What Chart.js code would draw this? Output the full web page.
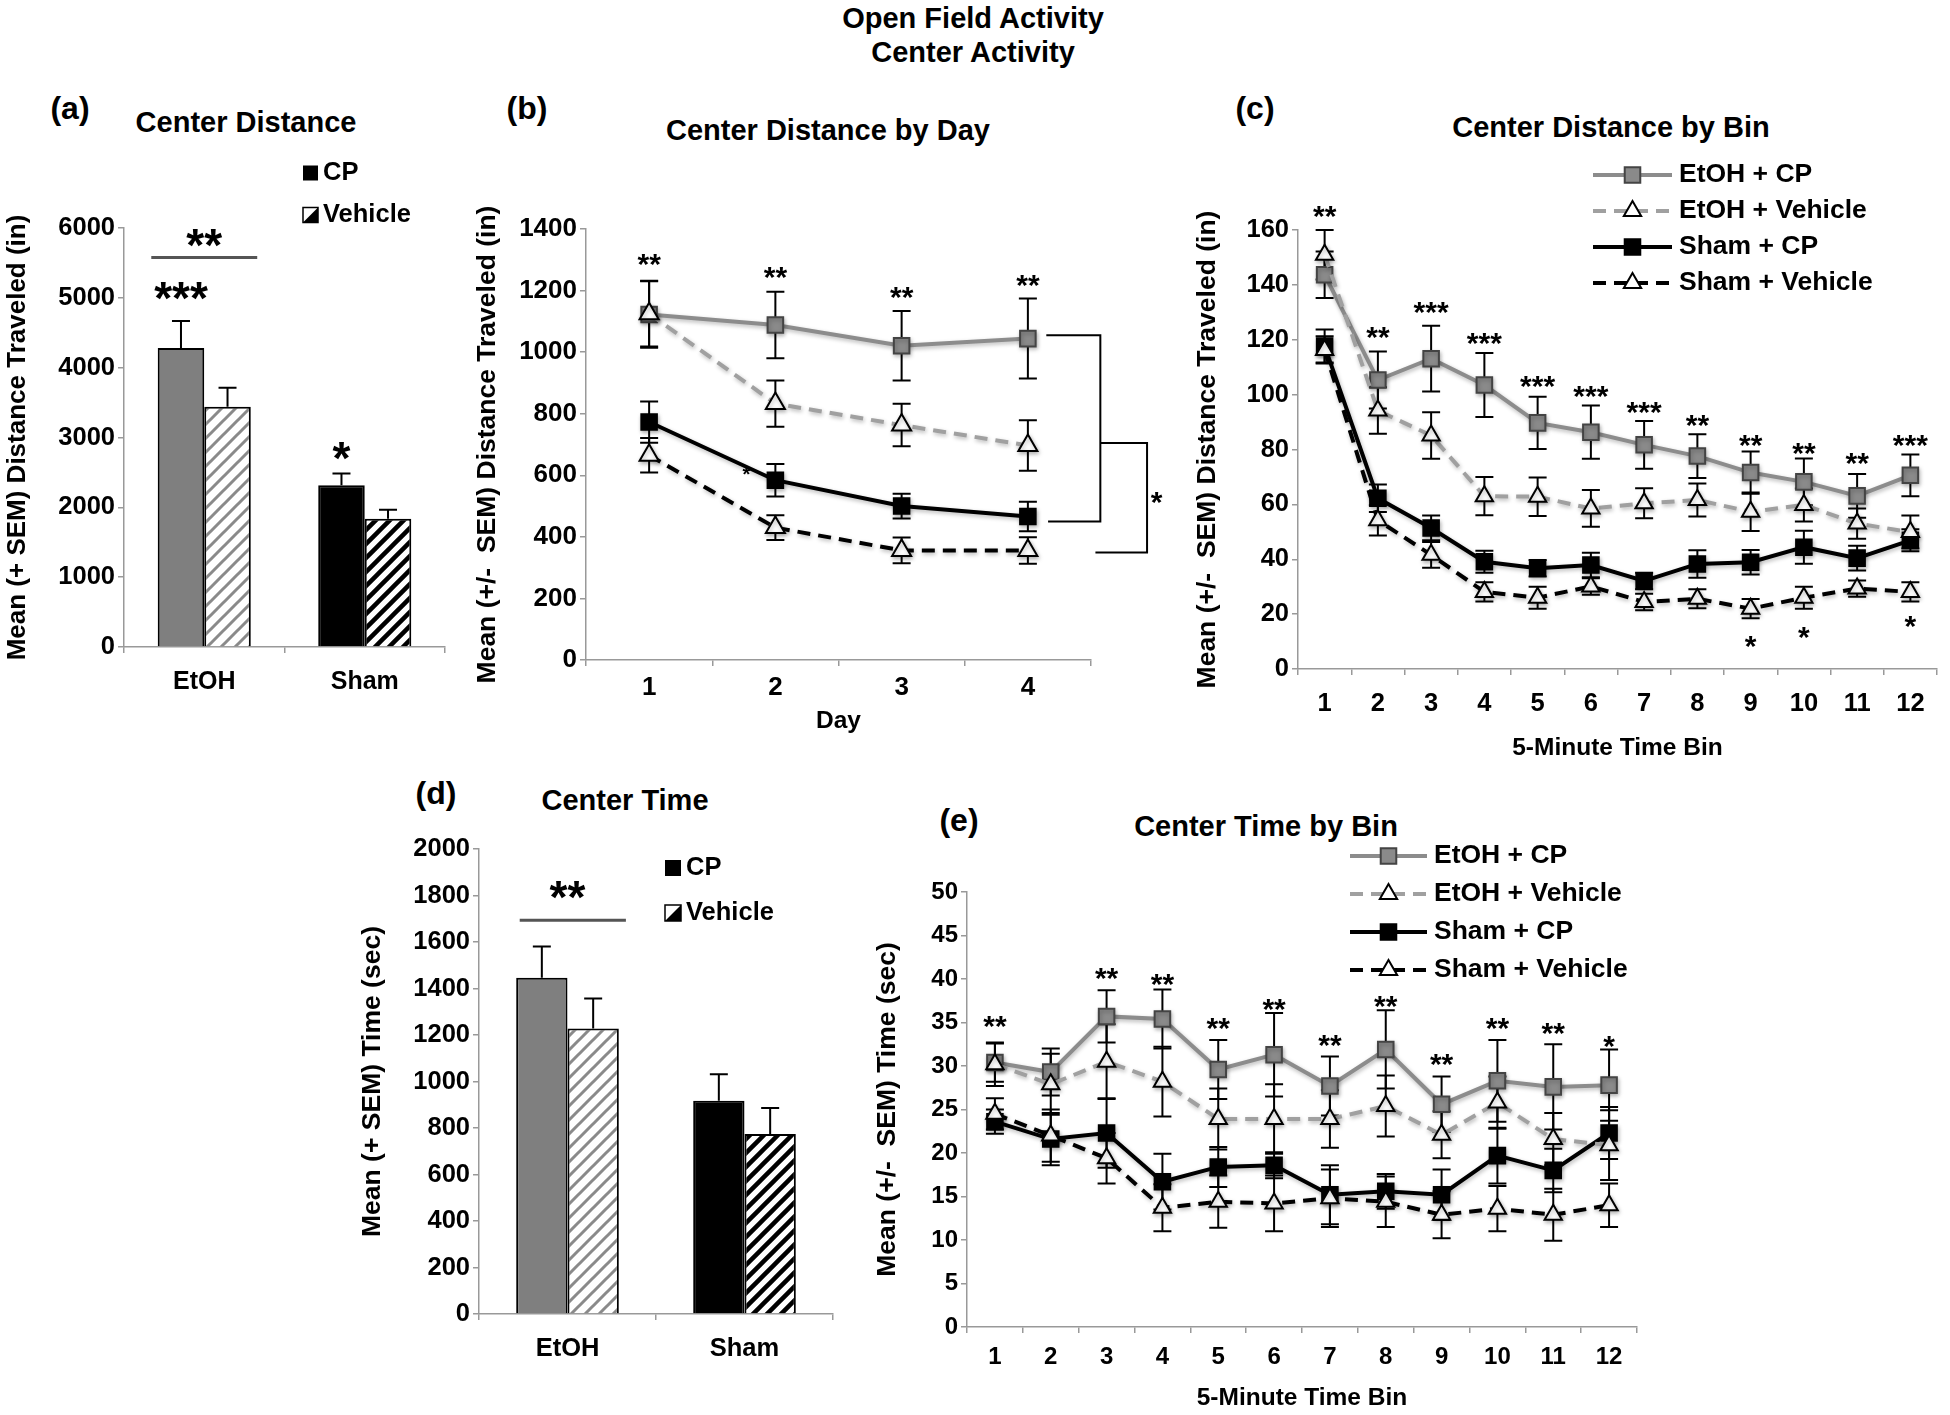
<!DOCTYPE html>
<html>
<head>
<meta charset="utf-8">
<title>Open Field Activity - Center Activity</title>
<script src="https://cdn.jsdelivr.net/npm/chart.js@4.4.1/dist/chart.umd.min.js"></script>
<style>
  html, body { margin: 0; padding: 0; background: #fff; }
  body { position: relative; width: 1950px; height: 1415px; overflow: hidden;
         font-family: "Liberation Sans", Arial, Helvetica, sans-serif; font-weight: bold; color: #000; }
  .lbl { position: absolute; white-space: nowrap; line-height: 1; transform: translate(-50%, -50%); }
  canvas { position: absolute; }
</style>
</head>
<body>
<div class="lbl" style="left:973px;top:18px;font-size:29px">Open Field Activity</div>
<div class="lbl" style="left:973px;top:52px;font-size:29px">Center Activity</div>

<div class="lbl" style="left:70px;top:108px;font-size:32px">(a)</div>
<div class="lbl" style="left:246px;top:122px;font-size:29px">Center Distance</div>
<div class="lbl" style="left:527px;top:108px;font-size:32px">(b)</div>
<div class="lbl" style="left:828px;top:130px;font-size:29px">Center Distance by Day</div>
<div class="lbl" style="left:1255px;top:108px;font-size:32px">(c)</div>
<div class="lbl" style="left:1611px;top:127px;font-size:29px">Center Distance by Bin</div>
<div class="lbl" style="left:436px;top:793px;font-size:32px">(d)</div>
<div class="lbl" style="left:625px;top:800px;font-size:29px">Center Time</div>
<div class="lbl" style="left:959px;top:820px;font-size:32px">(e)</div>
<div class="lbl" style="left:1266px;top:826px;font-size:29px">Center Time by Bin</div>

<canvas id="chartA" width="460" height="570" style="left:0px;top:140px"></canvas>
<canvas id="chartB" width="730" height="620" style="left:470px;top:140px"></canvas>
<canvas id="chartC" width="760" height="630" style="left:1190px;top:140px"></canvas>
<canvas id="chartD" width="495" height="570" style="left:355px;top:830px"></canvas>
<canvas id="chartE" width="780" height="580" style="left:870px;top:840px"></canvas>

<script>
// ---- data -------------------------------------------------------------
const groups = ["EtOH", "Sham"];
const treatments = ["CP", "Vehicle"];
const seriesNames = ["EtOH + CP", "EtOH + Vehicle", "Sham + CP", "Sham + Vehicle"];

// (a) center distance, mean and SEM
const distCP = [4280, 2316];
const distCPSem = [390, 170];
const distVeh = [3441, 1836];
const distVehSem = [270, 130];

// (b) center distance by day
const days = ["1", "2", "3", "4"];
const dayEtohCP = [1122, 1088, 1021, 1044];
const dayEtohCPSem = [108, 108, 113, 130];
const dayEtohVeh = [1125, 833, 763, 697];
const dayEtohVehSem = [107, 75, 69, 82];
const dayShamCP = [773, 584, 500, 466];
const dayShamCPSem = [67, 53, 40, 48];
const dayShamVeh = [665, 430, 356, 356];
const dayShamVehSem = [56, 40, 42, 43];
const dayStars = ["**", "**", "**", "**"];
const dayStarY = [1310, 1268, 1203, 1241];

// (c) center distance by 5-minute bin
const bins = ["1", "2", "3", "4", "5", "6", "7", "8", "9", "10", "11", "12"];
const binDistEtohCP = [143.7, 105.3, 113.1, 103.5, 89.7, 86.3, 81.7, 77.6, 71.6, 68.2, 63.1, 70.6];
const binDistEtohCPSem = [8.5, 10.4, 12, 11.7, 9.5, 9.7, 8.7, 8, 7.7, 8.5, 8, 7.6];
const binDistEtohVeh = [151, 94.2, 85.1, 63, 62.8, 58.5, 60.4, 61.6, 57.3, 59.8, 53, 49.9];
const binDistEtohVehSem = [9, 8.5, 8.5, 7, 7, 6.7, 5.5, 6, 7, 6, 5.5, 6];
const binDistShamCP = [117.7, 62.2, 51.4, 39.1, 36.7, 37.9, 32.1, 38.3, 38.9, 44.4, 40.4, 46.9];
const binDistShamCPSem = [6, 5, 4.5, 4, 3, 4.5, 3, 5, 4.5, 6, 4.5, 4];
const binDistShamVeh = [116.3, 54.2, 41.6, 28.1, 26, 30.1, 24.4, 25.6, 22, 26, 29.3, 28.1];
const binDistShamVehSem = [5, 5.5, 4.7, 3.5, 4, 3, 3, 3.5, 3.5, 4, 3, 3.5];
const binDistStars = ["**", "**", "***", "***", "***", "***", "***", "**", "**", "**", "**", "***"];
const binDistStarY = [167.9, 123.8, 132.8, 121.4, 105.7, 102.3, 96.2, 91.8, 84.5, 81.3, 77.9, 84.5];
const binDistLowBins = [8, 9, 11];
const binDistLowY = [10.9, 14.4, 18.3];

// (d) center time
const timeCP = [1446, 917];
const timeCPSem = [135, 114];
const timeVeh = [1228, 774];
const timeVehSem = [129, 112];

// (e) center time by 5-minute bin
const binTimeEtohCP = [30.4, 29.3, 35.7, 35.4, 29.6, 31.3, 27.7, 31.9, 25.6, 28.3, 27.6, 27.8];
const binTimeEtohCPSem = [2.2, 2.7, 3, 3.4, 3.4, 4.8, 3.4, 4.5, 3.2, 4.7, 4.9, 4.1];
const binTimeEtohVeh = [30.2, 27.9, 30.5, 28.2, 23.9, 23.9, 23.9, 25.4, 22.1, 25.8, 21.6, 20.9];
const binTimeEtohVehSem = [2.5, 3.5, 4.3, 4, 3.5, 4, 3.3, 3.5, 2.7, 3, 3, 4];
const binTimeShamCP = [23.6, 21.6, 22.3, 16.7, 18.4, 18.6, 15.2, 15.6, 15.2, 19.7, 18, 22.3];
const binTimeShamCPSem = [1.4, 3, 4, 3.2, 2.3, 1.5, 3.4, 2, 2.9, 3.2, 2.5, 3];
const binTimeShamVeh = [24.5, 22, 19.4, 13.7, 14.4, 14.2, 14.8, 14.4, 12.9, 13.6, 12.9, 14];
const binTimeShamVehSem = [1.8, 3, 2.9, 2.7, 3, 3.2, 3.3, 2.9, 2.7, 2.6, 3, 2.5];
const binTimeStars = ["**", "", "**", "**", "**", "**", "**", "**", "**", "**", "**", "*"];
const binTimeStarY = [35.5, 0, 41, 40.3, 35.2, 37.4, 33.3, 37.7, 31.1, 35.2, 34.7, 33.1];

// ---- styling ----------------------------------------------------------
const FONT = '"Liberation Sans", Arial, Helvetica, sans-serif';
const AXIS = "#999999";
Chart.defaults.font.family = FONT;
Chart.defaults.font.weight = "bold";
Chart.defaults.color = "#000";
Chart.defaults.animation = false;

const STYLES = [
    { color: "#8c8c8c", dash: [], point: "rect", fill: "#8a8a8a", edge: "#444", order: 1 },
    { color: "#a0a0a0", dash: [13, 8], point: "triangle", fill: "#fff", edge: "#000", order: 0 },
    { color: "#000", dash: [], point: "rect", fill: "#000", edge: "#000", order: 3 },
    { color: "#000", dash: [13, 8], point: "triangle", fill: "#fff", edge: "#000", order: 2 },
];

function hatch(color, lw) {
    const c = document.createElement("canvas");
    c.width = 14; c.height = 14;
    const g = c.getContext("2d");
    g.fillStyle = "#fff";
    g.fillRect(0, 0, 14, 14);
    g.strokeStyle = color;
    g.lineWidth = lw;
    g.beginPath();
    g.moveTo(-7, 7); g.lineTo(7, -7);
    g.moveTo(0, 14); g.lineTo(14, 0);
    g.moveTo(7, 21); g.lineTo(21, 7);
    g.stroke();
    return g.createPattern(c, "repeat");
}

function marker(ctx, kind, x, y, r) {
    ctx.beginPath();
    if (kind === "rect") {
        const h = r * Math.SQRT1_2;
        ctx.rect(x - h, y - h, 2 * h, 2 * h);
    } else {
        ctx.moveTo(x, y - r);
        ctx.lineTo(x + r * 0.866, y + r * 0.5);
        ctx.lineTo(x - r * 0.866, y + r * 0.5);
        ctx.closePath();
    }
    ctx.fill();
    ctx.stroke();
}

// ---- plugins ----------------------------------------------------------
function errorBars(opt) {
    function draw(chart) {
        const ctx = chart.ctx, ys = chart.scales.y;
        ctx.save();
        ctx.strokeStyle = "#000";
        ctx.lineWidth = opt.width;
        chart.data.datasets.forEach((ds, di) => {
            if (!ds.sem) return;
            chart.getDatasetMeta(di).data.forEach((el, i) => {
                const v = ds.data[i], s = ds.sem[i];
                const top = ys.getPixelForValue(v + s);
                const bot = opt.upOnly ? ys.getPixelForValue(v) : ys.getPixelForValue(v - s);
                ctx.beginPath();
                ctx.moveTo(el.x, top); ctx.lineTo(el.x, bot);
                ctx.moveTo(el.x - opt.cap, top); ctx.lineTo(el.x + opt.cap, top);
                if (!opt.upOnly) { ctx.moveTo(el.x - opt.cap, bot); ctx.lineTo(el.x + opt.cap, bot); }
                ctx.stroke();
            });
        });
        ctx.restore();
    }
    return {
        id: "errorBars",
        beforeDatasetsDraw(chart) { if (!opt.upOnly) draw(chart); },
        afterDatasetsDraw(chart) { if (opt.upOnly) draw(chart); },
    };
}

// soft glow under the plotted lines, like the exported spreadsheet chart
const glow = {
    id: "glow",
    beforeDatasetsDraw(chart) {
        const ctx = chart.ctx;
        ctx.save();
        ctx.shadowColor = "rgba(0,0,0,0.28)";
        ctx.shadowBlur = 4;
        ctx.shadowOffsetX = 1;
        ctx.shadowOffsetY = 2;
    },
    afterDatasetsDraw(chart) {
        chart.ctx.restore();
    },
};

// significance marks: texts at (category, value), lines in category units
function marks(texts, lines) {
    return {
        id: "marks",
        afterDraw(chart) {
            const ctx = chart.ctx, xs = chart.scales.x, ys = chart.scales.y;
            ctx.save();
            (lines || []).forEach(l => {
                ctx.strokeStyle = l.color || "#000";
                ctx.lineWidth = l.width || 2;
                ctx.beginPath();
                l.pts.forEach((p, k) => {
                    const px = xs.getPixelForValue(p[0]), py = ys.getPixelForValue(p[1]);
                    if (k === 0) ctx.moveTo(px, py); else ctx.lineTo(px, py);
                });
                ctx.stroke();
            });
            ctx.fillStyle = "#000";
            ctx.textAlign = "center";
            ctx.textBaseline = "alphabetic";
            texts.forEach(m => {
                if (!m.t) return;
                const x = m.ds !== undefined ? chart.getDatasetMeta(m.ds).data[m.i].x : xs.getPixelForValue(m.x);
                const y = ys.getPixelForValue(m.y);
                ctx.font = "bold " + m.size + "px " + FONT;
                ctx.fillText(m.t, x, y + m.size * 0.58);
            });
            ctx.restore();
        },
    };
}

function barLegend(opt) {
    return {
        id: "barLegend",
        afterDraw(chart) {
            const ctx = chart.ctx, s = opt.box;
            ctx.save();
            ctx.font = "bold " + opt.size + "px " + FONT;
            ctx.textBaseline = "middle";
            treatments.forEach((name, k) => {
                const y = opt.y + k * opt.gap;
                if (k === 0) {
                    ctx.fillStyle = "#000";
                    ctx.fillRect(opt.x, y - s / 2, s, s);
                } else {
                    ctx.fillStyle = "#fff";
                    ctx.fillRect(opt.x, y - s / 2, s, s);
                    ctx.fillStyle = "#000";
                    ctx.beginPath();
                    ctx.moveTo(opt.x + s, y - s / 2);
                    ctx.lineTo(opt.x + s, y + s / 2);
                    ctx.lineTo(opt.x, y + s / 2);
                    ctx.closePath();
                    ctx.fill();
                    ctx.strokeStyle = "#000";
                    ctx.lineWidth = 1.5;
                    ctx.strokeRect(opt.x, y - s / 2, s, s);
                }
                ctx.fillStyle = "#000";
                ctx.fillText(name, opt.x + s + 5, y);
            });
            ctx.restore();
        },
    };
}

function lineLegend(opt) {
    return {
        id: "lineLegend",
        afterDraw(chart) {
            const ctx = chart.ctx;
            ctx.save();
            ctx.font = "bold " + opt.size + "px " + FONT;
            ctx.textBaseline = "middle";
            seriesNames.forEach((name, k) => {
                const st = STYLES[k], y = opt.y + k * opt.gap;
                ctx.strokeStyle = st.color;
                ctx.lineWidth = 4;
                ctx.setLineDash(st.dash);
                ctx.beginPath();
                ctx.moveTo(opt.x, y); ctx.lineTo(opt.x + opt.len, y);
                ctx.stroke();
                ctx.setLineDash([]);
                ctx.fillStyle = st.fill;
                ctx.strokeStyle = st.edge;
                ctx.lineWidth = 2;
                marker(ctx, st.point, opt.x + opt.len / 2, y, st.point === "rect" ? 11 : 10);
                ctx.fillStyle = "#000";
                ctx.fillText(name, opt.x + opt.len + 7, y);
            });
            ctx.restore();
        },
    };
}

// ---- axes -------------------------------------------------------------
function yAxis(max, step, title, width, tickSize, titleSize, titlePad) {
    return {
        min: 0, max,
        ticks: { stepSize: step, font: { size: tickSize, weight: "bold" }, color: "#000", padding: 3,
                 callback: v => String(v) },
        grid: { drawOnChartArea: false, tickLength: 6, color: AXIS, lineWidth: 1.5 },
        border: { color: AXIS, width: 1.5 },
        title: { display: true, text: title, color: "#000", font: { size: titleSize, weight: "bold" },
                 padding: { top: titlePad, bottom: 0 } },
        afterFit: s => { s.width = width; },
    };
}

function xAxis(height, tickSize, pad, title) {
    return {
        offset: true,
        grid: { offset: true, drawOnChartArea: false, tickLength: 6, color: AXIS, lineWidth: 1.5 },
        border: { color: AXIS, width: 1.5 },
        ticks: { font: { size: tickSize, weight: "bold" }, color: "#000", padding: pad, maxRotation: 0, autoSkip: false },
        title: title ? { display: true, text: title, color: "#000", font: { size: 24.5, weight: "bold" },
                         padding: { top: 0, bottom: 4 } } : { display: false },
        afterFit: s => { s.height = height; },
    };
}

function lineSet(k, data, sem, r) {
    const st = STYLES[k];
    return {
        label: seriesNames[k], data, sem,
        borderColor: st.color, borderWidth: 4, borderDash: st.dash,
        pointStyle: st.point, pointRadius: st.point === "rect" ? r + 1 : r,
        pointBackgroundColor: st.fill, pointBorderColor: st.edge, pointBorderWidth: 2,
        tension: 0, order: st.order, clip: false,
    };
}

function barSets(cp, cpSem, veh, vehSem) {
    return [
        { label: treatments[0], data: cp, sem: cpSem, backgroundColor: ["#7f7f7f", "#000"],
          borderColor: "#000", borderWidth: 2, categoryPercentage: 0.58, barPercentage: 1 },
        { label: treatments[1], data: veh, sem: vehSem, backgroundColor: [hatch("#8a8a8a", 3), hatch("#000", 4.5)],
          borderColor: "#000", borderWidth: 2, categoryPercentage: 0.58, barPercentage: 1 },
    ];
}

const noLegend = { legend: { display: false }, tooltip: { enabled: false } };

// ---- (a) Center Distance ---------------------------------------------
new Chart(document.getElementById("chartA"), {
    type: "bar",
    data: { labels: groups, datasets: barSets(distCP, distCPSem, distVeh, distVehSem) },
    options: {
        responsive: false,
        layout: { padding: { left: 0, top: 88, right: 15, bottom: 13 } },
        plugins: noLegend,
        scales: {
            x: xAxis(50, 25, 14),
            y: yAxis(6000, 1000, "Mean (+ SEM) Distance Traveled (in)", 124, 25.5, 26, 2),
        },
    },
    plugins: [
        errorBars({ upOnly: true, cap: 9, width: 2 }),
        marks(
            [{ x: 0, y: 5904, t: "**", size: 46 }, { ds: 0, i: 0, y: 5150, t: "***", size: 46 },
             { ds: 0, i: 1, y: 2853, t: "*", size: 46 }],
            [{ pts: [[-0.33, 5576], [0.33, 5576]], color: "#555", width: 3 }]
        ),
        barLegend({ x: 303, y: 33, gap: 42, box: 15, size: 25.5 }),
    ],
});

// ---- (b) Center Distance by Day --------------------------------------
new Chart(document.getElementById("chartB"), {
    type: "line",
    data: {
        labels: days,
        datasets: [
            lineSet(0, dayEtohCP, dayEtohCPSem, 10),
            lineSet(1, dayEtohVeh, dayEtohVehSem, 11),
            lineSet(2, dayShamCP, dayShamCPSem, 10),
            lineSet(3, dayShamVeh, dayShamVehSem, 11),
        ],
    },
    options: {
        responsive: false,
        layout: { padding: { left: 0, top: 89, right: 109, bottom: 20 } },
        plugins: noLegend,
        scales: {
            x: xAxis(80, 26, 6, "Day"),
            y: yAxis(1400, 200, "Mean (+/-  SEM) Distance Traveled (in)", 116, 26, 26.5, 2),
        },
    },
    plugins: [
        errorBars({ upOnly: false, cap: 9, width: 2 }),
        glow,
        marks(
            days.map((d, i) => ({ x: i, y: dayStarY[i], t: dayStars[i], size: 30 }))
                .concat([{ x: 0.77, y: 618, t: "*", size: 20 }, { x: 4.02, y: 537, t: "*", size: 30 }]),
            [{ pts: [[3.146, 1055], [3.574, 1055], [3.574, 450], [3.16, 450]] },
             { pts: [[3.574, 705], [3.944, 705], [3.944, 349], [3.535, 349]] }]
        ),
    ],
});

// ---- (c) Center Distance by Bin --------------------------------------
new Chart(document.getElementById("chartC"), {
    type: "line",
    data: {
        labels: bins,
        datasets: [
            lineSet(0, binDistEtohCP, binDistEtohCPSem, 10),
            lineSet(1, binDistEtohVeh, binDistEtohVehSem, 10),
            lineSet(2, binDistShamCP, binDistShamCPSem, 10),
            lineSet(3, binDistShamVeh, binDistShamVehSem, 10),
        ],
    },
    options: {
        responsive: false,
        layout: { padding: { left: 0, top: 90, right: 6, bottom: 3 } },
        plugins: noLegend,
        scales: {
            x: xAxis(98, 25.5, 14, "5-Minute Time Bin"),
            y: yAxis(160, 20, "Mean (+/-  SEM) Distance Traveled (in)", 108, 25.5, 26.5, 2),
        },
    },
    plugins: [
        errorBars({ upOnly: false, cap: 9, width: 2 }),
        glow,
        marks(
            bins.map((b, i) => ({ x: i, y: binDistStarY[i], t: binDistStars[i], size: 30 }))
                .concat(binDistLowBins.map((b, k) => ({ x: b, y: binDistLowY[k], t: "*", size: 30 })))
        ),
        lineLegend({ x: 403, y: 35, gap: 36, len: 79, size: 26.5 }),
    ],
});

// ---- (d) Center Time ---------------------------------------------------
new Chart(document.getElementById("chartD"), {
    type: "bar",
    data: { labels: groups, datasets: barSets(timeCP, timeCPSem, timeVeh, timeVehSem) },
    options: {
        responsive: false,
        layout: { padding: { left: 0, top: 19, right: 17, bottom: 31 } },
        plugins: noLegend,
        scales: {
            x: xAxis(55, 25.5, 14),
            y: yAxis(2000, 200, "Mean (+ SEM) Time (sec)", 124, 25.5, 26.5, 2),
        },
    },
    plugins: [
        errorBars({ upOnly: true, cap: 9, width: 2 }),
        marks(
            [{ x: 0, y: 1838, t: "**", size: 46 }],
            [{ pts: [[-0.27, 1694], [0.33, 1694]], color: "#555", width: 3 }]
        ),
        barLegend({ x: 310, y: 38, gap: 45, box: 16, size: 25.5 }),
    ],
});

// ---- (e) Center Time by Bin --------------------------------------------
new Chart(document.getElementById("chartE"), {
    type: "line",
    data: {
        labels: bins,
        datasets: [
            lineSet(0, binTimeEtohCP, binTimeEtohCPSem, 10),
            lineSet(1, binTimeEtohVeh, binTimeEtohVehSem, 10),
            lineSet(2, binTimeShamCP, binTimeShamCPSem, 10),
            lineSet(3, binTimeShamVeh, binTimeShamVehSem, 10),
        ],
    },
    options: {
        responsive: false,
        layout: { padding: { left: 0, top: 52, right: 12, bottom: 3 } },
        plugins: noLegend,
        scales: {
            x: xAxis(90, 24, 10, "5-Minute Time Bin"),
            y: yAxis(50, 5, "Mean (+/-  SEM) Time (sec)", 97, 24, 26.5, 2),
        },
    },
    plugins: [
        errorBars({ upOnly: false, cap: 9, width: 2 }),
        glow,
        marks(bins.map((b, i) => ({ x: i, y: binTimeStarY[i], t: binTimeStars[i], size: 30 }))),
        lineLegend({ x: 480, y: 16, gap: 38, len: 77, size: 26.5 }),
    ],
});
</script>
</body>
</html>
